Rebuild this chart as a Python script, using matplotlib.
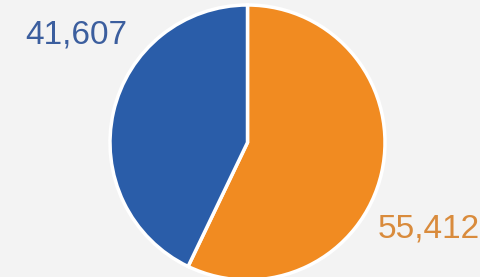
import matplotlib.pyplot as plt

# slice values (clockwise from 12 o'clock)
labels = ["55,412", "41,607"]
values = [55412, 41607]
colors = ["#f18b21", "#2a5da9"]
label_colors = ["#d98b3c", "#3b5e9e"]

W, H = 480, 277
cx, cy, r = 247.5, 142.5, 137.5  # pixel centre (from top-left) / radius of the pie

fig = plt.figure(figsize=(W / 100, H / 100), dpi=100)
fig.patch.set_facecolor("#f3f3f3")
ax = fig.add_axes([0, 0, 1, 1])
ax.set_facecolor("#f3f3f3")

ax.pie(values, colors=colors, startangle=90, counterclock=False,
       wedgeprops=dict(edgecolor="white", linewidth=2.5))
ax.set_xlim(-cx / r, (W - cx) / r)
ax.set_ylim(-(H - cy) / r, cy / r)
ax.set_aspect("auto")
ax.axis("off")

fig.text(429 / W, 1 - 229 / H, labels[0], color=label_colors[0], fontsize=24,
         family="Liberation Sans", ha="center", va="center")
fig.text(76 / W, 1 - 35 / H, labels[1], color=label_colors[1], fontsize=24,
         family="Liberation Sans", ha="center", va="center")

fig.savefig("out.png", dpi=100, facecolor=fig.get_facecolor())
